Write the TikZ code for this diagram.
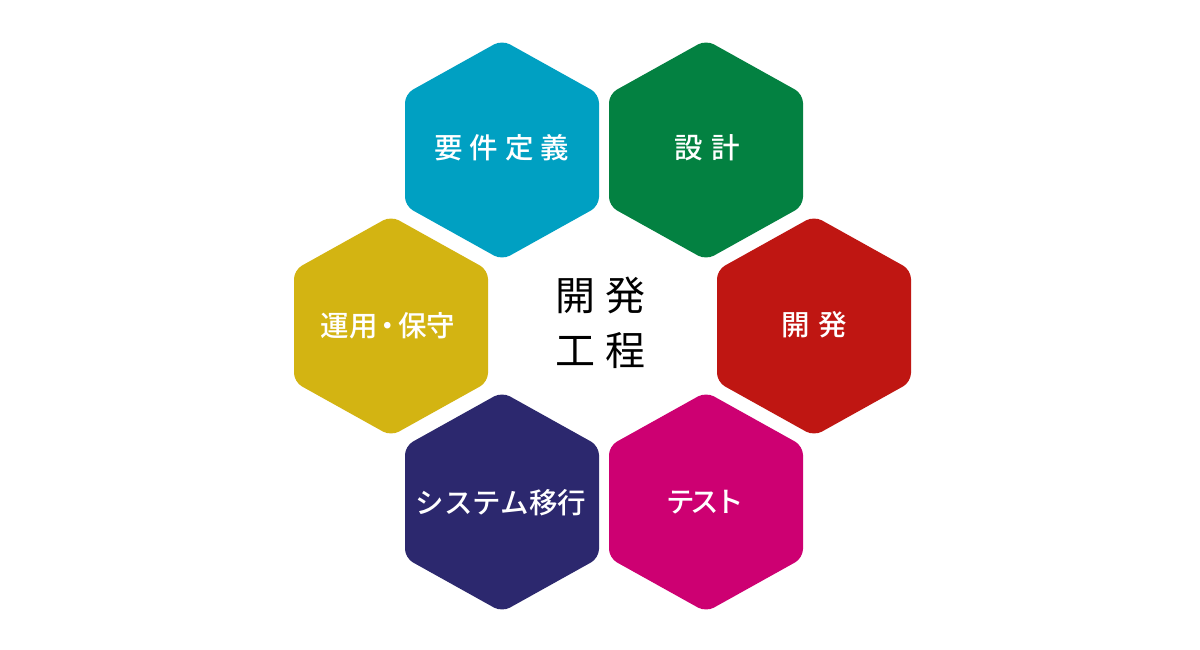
\documentclass[tikz,border=0pt]{standalone}
\usepackage{fontspec}
\newfontfamily\jpfont{Noto Sans CJK JP}
\newfontfamily\jpmed{Noto Sans CJK JP Medium}
\definecolor{cblue}{RGB}{0,160,194}
\definecolor{cgreen}{RGB}{3,129,65}
\definecolor{cred}{RGB}{191,22,18}
\definecolor{cyellow}{RGB}{211,180,18}
\definecolor{cnavy}{RGB}{44,40,110}
\definecolor{cmagenta}{RGB}{205,0,114}
\newcommand{\hexat}[3]{%
  \fill[#3, rounded corners=9pt] (#1,#2) ++(0,-110) -- ++(97,54) -- ++(0,112) -- ++(-97,54) -- ++(-97,-54) -- ++(0,-112) -- cycle;}
\begin{document}
\begin{tikzpicture}[x=1pt,y=-1pt,
  hexlabel/.style={text=white, font=\jpmed\fontsize{28.5}{34}\selectfont, inner sep=0pt},
  centerlabel/.style={text=black, font=\jpfont\fontsize{40}{55}\selectfont, align=center, inner sep=0pt}]
\useasboundingbox (0,0) rectangle (1200,650);
\fill[white] (0,0) rectangle (1200,650);
\hexat{502}{150}{cblue}
\hexat{706}{150}{cgreen}
\hexat{814}{326}{cred}
\hexat{706}{502}{cmagenta}
\hexat{502}{502}{cnavy}
\hexat{391}{326}{cyellow}
\node[hexlabel] (req) at (502,148) {要\hspace{7pt}件\hspace{7pt}定\hspace{7pt}義};
\node[hexlabel] (des) at (707,148) {設\hspace{9pt}計};
\node[hexlabel] (dev) at (814,325) {開\hspace{9pt}発};
\node[hexlabel] (tst) at (705,502) {テ\hspace{-4pt}ス\hspace{-4pt}ト};
\node[hexlabel] (mig) at (501,503) {システム移行};
\node[hexlabel] (ops) at (388,326) {運用\hspace{-4pt}・\hspace{-4pt}保守};
\node[centerlabel] (ctr) at (600,323) {開\hspace{10pt}発\\工\hspace{10pt}程};
\end{tikzpicture}
\end{document}
